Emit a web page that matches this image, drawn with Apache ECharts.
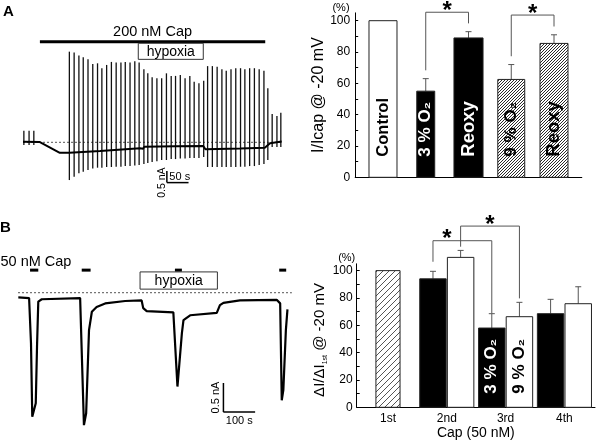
<!DOCTYPE html>
<html>
<head>
<meta charset="utf-8">
<script src="https://cdn.jsdelivr.net/npm/echarts@6.0.0/dist/echarts.min.js"></script>
<style>
html,body{margin:0;padding:0;background:#fff;}
#chart{width:600px;height:443px;}
</style>
</head>
<body>
<div id="chart"></div>
<script>
// ================= DATA =================
// Panel A – holding-current baseline (time s, current nA)
const traceA_t = [0, 39, 85, 107, 178, 270, 277, 280, 351, 416, 421, 501, 558, 570, 597];
const traceA_i = [0.02, 0.01, -0.45, -0.45, -0.37, -0.26, -0.28, -0.19, -0.17, -0.16, -0.30, -0.27, -0.23, -0.04, 0.03];
// Panel A – ramp-evoked current excursions (time s, outward peak nA, inward peak nA)
const rampA_t = [2, 14, 25,
  107, 118, 129, 139, 150, 161, 172, 182, 193, 204, 215, 226, 236, 247, 258, 268, 279,
  288, 298, 309, 320, 331, 342, 352, 363, 374, 385, 395, 406, 417,
  426, 437, 448, 459, 469, 480, 491, 502, 512, 523, 534, 545, 556, 565,
  575, 586, 595];
const rampA_top = [0.5, 0.5, 0.5,
  3.89, 3.85, 3.72, 3.65, 3.56, 3.36, 3.39, 3.18, 3.32, 3.45, 3.42, 3.42, 3.45, 3.42, 3.48, 3.42, 3.13,
  2.96, 2.79, 2.75, 2.75, 2.96, 2.85, 2.85, 2.89, 2.75, 2.85, 2.60, 2.53, 2.64,
  3.27, 3.27, 3.24, 3.13, 3.07, 3.13, 3.18, 3.18, 3.13, 3.18, 3.18, 3.13, 3.07, 2.32,
  1.21, 1.13, 1.27];
const rampA_bot = [-0.12, -0.12, -0.12,
  -1.62, -1.48, -1.33, -1.26, -1.19, -1.12, -1.09, -1.09, -1.06, -1.06, -1.05, -1.05, -1.02, -1.02, -1.00, -0.97, -0.93,
  -0.89, -0.85, -0.81, -0.76, -0.76, -0.72, -0.72, -0.70, -0.70, -0.67, -0.67, -0.67, -0.63,
  -1.06, -1.06, -1.06, -1.06, -1.06, -1.06, -1.06, -1.05, -1.05, -1.02, -1.02, -0.97, -0.93, -0.76,
  -0.20, -0.20, -0.20];
const capA = [39, 559];          // 200 nM Cap application (s)
const hypoxiaA = [266, 416];     // hypoxia period (s)

// Panel A – bar chart (%)
const catsA = ['Control', '3 % O₂', 'Reoxy', '9 % O₂', 'Reoxy'];
const valsA = [100, 55, 89, 62.5, 85.5];
const errTopA = [-1, 63, 93, 72, 91];   // -1 = no error bar
const sigA = [[1, 2], [3, 4]];
const yLabelsA = [0, 20, 40, 60, 80, 100];

// Panel B – current trace (time s, current nA)
const traceB_t = [1, 35, 38, 41, 45, 56, 60, 64, 75, 196, 201, 208, 215, 224, 233, 248, 275, 338, 390, 395, 406, 490, 495, 503, 509, 517, 522, 543, 627, 637, 648, 700, 816, 827, 832, 837, 845, 850];
const traceB_i = [-0.08, -0.09, -0.12, -0.85, -2.09, -1.86, -0.91, -0.15, -0.11, -0.09, -0.12, -2.23, -2.03, -0.63, -0.32, -0.24, -0.18, -0.14, -0.13, -0.26, -0.31, -0.33, -0.35, -1.58, -1.61, -0.68, -0.46, -0.38, -0.34, -0.21, -0.17, -0.13, -0.12, -0.18, -1.81, -1.64, -0.63, -0.28];
const capB = [[38, 64], [201, 229], [495, 517], [824, 846]];  // 50 nM Cap pulses (s)
const hypoxiaB = [385, 629];

// Panel B – bar chart (%)
const groupsB = ['1st', '2nd', '3rd', '4th'];
const firstB = 100;
const o3B = [null, 94, 58, 68.5];
const o3ErrTopB = [null, 99.5, 68.5, 79];
const o9B = [null, 109.7, 66.3, 75.8];
const o9ErrTopB = [null, 114.8, 76.8, 88.2];
const barTextB = {2: ['3 % O₂', '9 % O₂']};
const yLabelsB = [0, 20, 40, 60, 80, 100];

// ================= STYLE / LAYOUT =================
const FF = '"Liberation Sans", Arial, Helvetica, sans-serif';
function makeHatch(size, color, lw) {
  const cv = document.createElement('canvas');
  cv.width = size; cv.height = size;
  const g = cv.getContext('2d');
  g.fillStyle = '#fff'; g.fillRect(0, 0, size, size);
  g.strokeStyle = color; g.lineWidth = lw;
  g.beginPath();
  g.moveTo(0, size); g.lineTo(size, 0);
  g.moveTo(-1, 1); g.lineTo(1, -1);
  g.moveTo(size - 1, size + 1); g.lineTo(size + 1, size - 1);
  g.stroke();
  return {image: cv, repeat: 'repeat'};
}
const hatchA = makeHatch(3, '#2a2a2a', 1);
const hatchB = makeHatch(6, '#555', 1);

const styleA = [
  {fill: '#fff', w: 0.655, txt: '#000', fs: 16.5},
  {fill: '#000', w: 0.42, txt: '#fff', fs: 17},
  {fill: '#000', w: 0.68, txt: '#fff', fs: 18.5},
  {fill: hatchA, w: 0.63, txt: '#000', fs: 17},
  {fill: hatchA, w: 0.655, txt: '#000', fs: 18.5}
];
const bracketTopA = [105.4, 103.6];

const OFFB = 0.235, WB = 0.45, W1B = 0.41;
const barsA = catsA.map((c, i) => [i, valsA[i], errTopA[i]]);
const barsB = [[0, firstB, -1, 0]];
for (let g = 1; g < groupsB.length; g++) {
  barsB.push([g, o3B[g], o3ErrTopB[g], 1]);
  barsB.push([g, o9B[g], o9ErrTopB[g], 2]);
}
// brackets B: [group, kind] -> [group, kind]
const sigB = [[[1, 1], [2, 1]], [[1, 2], [2, 2]]];
const bracketB = [{top: 121.9, l: 106.5, r: 68.8}, {top: 132.6, l: 117.5, r: 79.7}];

function seg(p, q, stroke, lw, dash) {
  return {type: 'line', shape: {x1: p[0], y1: p[1], x2: q[0], y2: q[1]},
    style: {stroke: stroke, lineWidth: lw, lineDash: dash || null}};
}
function txt(x, y, text, size, opts) {
  opts = opts || {};
  return {type: 'text', x: x, y: y, rotation: opts.rot || 0,
    style: {text: text, fontSize: size, fontFamily: FF, fontWeight: opts.bold ? 'bold' : 'normal',
      fill: opts.fill || '#000', align: opts.align || 'center', verticalAlign: opts.va || 'middle'}};
}

// ---- render functions ----
function renderRamp(params, api) {
  const p = api.coord([api.value(0), api.value(1)]);
  const q = api.coord([api.value(0), api.value(2)]);
  return seg(p, q, '#111', 1.3);
}
function renderAnnA(params, api) {
  const c = [];
  c.push(seg(api.coord([0, 0]), api.coord([600, 0]), '#555', 1, [2, 2]));
  const a0 = api.coord([capA[0], 4.32]), a1 = api.coord([capA[1], 4.32]);
  c.push(seg(a0, a1, '#000', 3));
  c.push(txt((a0[0] + a1[0]) / 2, a0[1] - 9.5, '200 nM Cap', 14.5));
  const h0 = api.coord([hypoxiaA[0], 4.25]), h1 = api.coord([hypoxiaA[1], 3.56]);
  c.push({type: 'rect', shape: {x: h0[0], y: h0[1], width: h1[0] - h0[0], height: h1[1] - h0[1]},
    style: {fill: '#fff', stroke: '#333', lineWidth: 1}});
  c.push(txt((h0[0] + h1[0]) / 2, (h0[1] + h1[1]) / 2 + 0.5, 'hypoxia', 14));
  // scale bar: 50 s, 0.5 nA
  const s0 = api.coord([332, -1.73]), s1 = api.coord([382, -1.73]), s2 = api.coord([332, -1.23]);
  c.push(seg(s0, s1, '#000', 1.5));
  c.push(seg(s0, s2, '#000', 1.5));
  c.push(txt(s0[0] + 2.5, s0[1] - 0.5, '50 s', 11, {align: 'left', va: 'bottom'}));
  c.push(txt(s0[0] - 5, s0[1], '0.5 nA', 10.5, {rot: Math.PI / 2, align: 'center'}));
  return {type: 'group', children: c};
}
function renderAnnB(params, api) {
  const c = [];
  c.push(seg(api.coord([0, 0]), api.coord([864, 0]), '#555', 1, [2, 2]));
  capB.forEach(p => c.push(seg(api.coord([p[0], 0.38]), api.coord([p[1], 0.38]), '#000', 3)));
  const h0 = api.coord([hypoxiaB[0], 0.35]), h1 = api.coord([hypoxiaB[1], 0.06]);
  c.push({type: 'rect', shape: {x: h0[0], y: h0[1], width: h1[0] - h0[0], height: h1[1] - h0[1]},
    style: {fill: '#fff', stroke: '#333', lineWidth: 1}});
  c.push(txt((h0[0] + h1[0]) / 2, (h0[1] + h1[1]) / 2 + 0.5, 'hypoxia', 14));
  const s0 = api.coord([648, -2.01]), s1 = api.coord([748, -2.01]), s2 = api.coord([648, -1.52]);
  c.push(seg(s0, s1, '#000', 1.5));
  c.push(seg(s0, s2, '#000', 1.5));
  c.push(txt((s0[0] + s1[0]) / 2, s0[1] + 3, '100 s', 11, {va: 'top'}));
  c.push(txt(s0[0] - 7, (s0[1] + s2[1]) / 2, '0.5 nA', 11, {rot: Math.PI / 2}));
  return {type: 'group', children: c};
}
function renderBarA(params, api) {
  const i = params.dataIndex;
  const x = api.value(0), v = api.value(1), e = api.value(2);
  const u = api.size([1, 0])[0];
  const s = styleA[i];
  const w = s.w * u;
  const top = api.coord([x, v]), base = api.coord([x, 0]);
  const c = [];
  if (e > 0) {
    const et = api.coord([x, e]);
    c.push(seg([top[0], top[1]], [top[0], et[1]], '#555', 1));
    c.push(seg([top[0] - 3, et[1]], [top[0] + 3, et[1]], '#555', 1));
  }
  c.push({type: 'rect', shape: {x: top[0] - w / 2, y: top[1], width: w, height: base[1] - top[1]},
    style: {fill: s.fill, stroke: '#222', lineWidth: 1}});
  const lp = api.coord([x, 13.2]);
  c.push(txt(lp[0], lp[1], catsA[i], s.fs, {bold: true, rot: Math.PI / 2, align: 'left', fill: s.txt}));
  return {type: 'group', children: c};
}
function renderBracketA(params, api) {
  const k = params.dataIndex;
  const a = sigA[k][0], b = sigA[k][1];
  const y = bracketTopA[k];
  const pa = api.coord([a, y]), pb = api.coord([b, y]);
  const la = api.coord([a, errTopA[a] + 5.3]), lb = api.coord([b, errTopA[b] + 5.3]);
  return {type: 'group', children: [
    seg(pa, pb, '#555', 1), seg(pa, la, '#555', 1), seg(pb, lb, '#555', 1),
    txt((pa[0] + pb[0]) / 2, pa[1] - 1, '*', 24, {bold: true})
  ]};
}
function barXB(g, kind) { return g + (kind === 1 ? -OFFB : kind === 2 ? OFFB : 0); }
function renderBarB(params, api) {
  const g = api.value(0), v = api.value(1), e = api.value(2), kind = api.value(3);
  const u = api.size([1, 0])[0];
  const xv = barXB(g, kind);
  const w = (kind === 0 ? W1B : WB) * u;
  const top = api.coord([xv, v]), base = api.coord([xv, 0]);
  const c = [];
  if (e > 0) {
    const et = api.coord([xv, e]);
    c.push(seg([top[0], top[1]], [top[0], et[1]], '#555', 1));
    c.push(seg([top[0] - 3, et[1]], [top[0] + 3, et[1]], '#555', 1));
  }
  const fill = kind === 0 ? hatchB : kind === 1 ? '#000' : '#fff';
  c.push({type: 'rect', shape: {x: top[0] - w / 2, y: top[1], width: w, height: base[1] - top[1]},
    style: {fill: fill, stroke: '#222', lineWidth: 1}});
  if (barTextB[g] && kind > 0) {
    const lp = api.coord([xv, 10]);
    c.push(txt(lp[0], lp[1], barTextB[g][kind - 1], 17, {bold: true, rot: Math.PI / 2, align: 'left', fill: kind === 1 ? '#fff' : '#000'}));
  }
  return {type: 'group', children: c};
}
function renderBracketB(params, api) {
  const k = params.dataIndex;
  const A = sigB[k][0], B = sigB[k][1];
  const L = bracketB[k];
  const pa = api.coord([barXB(A[0], A[1]), L.top]), pb = api.coord([barXB(B[0], B[1]), L.top]);
  const la = api.coord([barXB(A[0], A[1]), L.l]), lb = api.coord([barXB(B[0], B[1]), L.r]);
  let sx = (pa[0] + pb[0]) / 2;
  if (k === 0) {
    const other = api.coord([barXB(sigB[1][0][0], sigB[1][0][1]), 0])[0];
    sx = (pa[0] + other) / 2;
  }
  return {type: 'group', children: [
    seg(pa, pb, '#555', 1), seg(pa, la, '#555', 1), seg(pb, lb, '#555', 1),
    txt(sx, pa[1] - 1, '*', 24, {bold: true})
  ]};
}

const axisBlack = {lineStyle: {color: '#000', width: 1}};
const option = {
  animation: false,
  textStyle: {fontFamily: FF, color: '#000'},
  grid: [
    {left: 23, top: 14.15, width: 260, height: 179.41},
    {left: 355.2, top: 12.87, width: 226.6, height: 164.43},
    {left: 18, top: 257.06, width: 275.8, height: 184.14},
    {left: 356.7, top: 263.8, width: 238.3, height: 143.5}
  ],
  xAxis: [
    {gridIndex: 0, type: 'value', min: 0, max: 600, show: false},
    {gridIndex: 1, type: 'value', min: -0.65, max: 4.65, axisLine: Object.assign({show: true, onZero: false}, axisBlack),
      axisTick: {show: false}, axisLabel: {show: false}, splitLine: {show: false}},
    {gridIndex: 2, type: 'value', min: 0, max: 870, show: false},
    {gridIndex: 3, type: 'value', min: -0.532, max: 3.52, axisLine: Object.assign({show: true, onZero: false}, axisBlack),
      axisTick: {show: false}, splitLine: {show: false},
      axisLabel: {customValues: [0, 1, 2, 3], formatter: v => groupsB[Math.round(v)], color: '#000', fontSize: 12, margin: 5, fontFamily: FF},
      name: 'Cap (50 nM)', nameLocation: 'middle', nameGap: 19, nameTextStyle: {fontSize: 14, color: '#000', fontFamily: FF}}
  ],
  yAxis: [
    {gridIndex: 0, type: 'value', min: -2.2, max: 5.5, show: false},
    {gridIndex: 1, type: 'value', min: 0, max: 105,
      axisLine: Object.assign({show: true, onZero: false}, axisBlack),
      axisTick: {show: true, inside: true, length: 3, customValues: [0, 10, 20, 30, 40, 50, 60, 70, 80, 90, 100], lineStyle: {color: '#000'}},
      axisLabel: {customValues: yLabelsA, color: '#000', fontSize: 12, margin: 5, fontFamily: FF},
      splitLine: {show: false},
      name: 'I/Icap @ -20 mV', nameLocation: 'middle', nameRotate: 90, nameGap: 24,
      nameTextStyle: {fontSize: 16, color: '#000', fontFamily: FF}},
    {gridIndex: 2, type: 'value', min: -2.5, max: 0.6, show: false},
    {gridIndex: 3, type: 'value', min: 0, max: 105,
      axisLine: Object.assign({show: true, onZero: false}, axisBlack),
      axisTick: {show: true, inside: true, length: 3, customValues: [0, 10, 20, 30, 40, 50, 60, 70, 80, 90, 100], lineStyle: {color: '#000'}},
      axisLabel: {customValues: yLabelsB, color: '#000', fontSize: 12, margin: 4, fontFamily: FF},
      splitLine: {show: false}}
  ],
  graphic: [
    {type: 'text', x: 3, y: 12, style: {text: 'A', fontSize: 15, fontWeight: 'bold', fontFamily: FF, fill: '#000', verticalAlign: 'middle'}},
    {type: 'text', x: 0, y: 228, style: {text: 'B', fontSize: 15, fontWeight: 'bold', fontFamily: FF, fill: '#000', verticalAlign: 'middle'}},
    {type: 'text', x: 341, y: 7.5, style: {text: '(%)', fontSize: 11, fontFamily: FF, fill: '#000', align: 'center', verticalAlign: 'middle'}},
    {type: 'text', x: 346.7, y: 257.5, style: {text: '(%)', fontSize: 11, fontFamily: FF, fill: '#000', align: 'center', verticalAlign: 'middle'}},
    {type: 'text', x: 0.5, y: 262, style: {text: '50 nM Cap', fontSize: 14.5, fontFamily: FF, fill: '#000', align: 'left', verticalAlign: 'middle'}},
    {type: 'text', x: 319, y: 340, rotation: Math.PI / 2,
      style: {text: '{a|ΔI/ΔI}{s|1st}{a| @ -20 mV}', fill: '#000', align: 'center', verticalAlign: 'middle',
        rich: {a: {fontSize: 15, fontFamily: FF, fill: '#000', verticalAlign: 'bottom', lineHeight: 17},
               s: {fontSize: 7, fontFamily: FF, fill: '#000', verticalAlign: 'bottom', lineHeight: 17, padding: [0, 0, -1, 0]}}}}
  ],
  series: [
    {type: 'custom', xAxisIndex: 0, yAxisIndex: 0, renderItem: renderAnnA, data: [[0, 0]], silent: true, z: 1},
    {type: 'custom', xAxisIndex: 0, yAxisIndex: 0, renderItem: renderRamp,
      data: rampA_t.map((t, i) => [t, rampA_bot[i], rampA_top[i]]), silent: true, z: 2},
    {type: 'line', xAxisIndex: 0, yAxisIndex: 0, data: traceA_t.map((t, i) => [t, traceA_i[i]]),
      showSymbol: false, lineStyle: {color: '#000', width: 2}, silent: true, z: 3},
    {type: 'custom', xAxisIndex: 1, yAxisIndex: 1, renderItem: renderBarA, data: barsA, silent: true, z: 2},
    {type: 'custom', xAxisIndex: 1, yAxisIndex: 1, renderItem: renderBracketA, data: sigA.map((p, k) => [k, 0]), silent: true, z: 3},
    {type: 'custom', xAxisIndex: 2, yAxisIndex: 2, renderItem: renderAnnB, data: [[0, 0]], silent: true, z: 1},
    {type: 'line', xAxisIndex: 2, yAxisIndex: 2, data: traceB_t.map((t, i) => [t, traceB_i[i]]),
      showSymbol: false, lineStyle: {color: '#000', width: 2.2}, silent: true, z: 3},
    {type: 'custom', xAxisIndex: 3, yAxisIndex: 3, renderItem: renderBarB, data: barsB, silent: true, z: 2},
    {type: 'custom', xAxisIndex: 3, yAxisIndex: 3, renderItem: renderBracketB, data: sigB.map((p, k) => [k, 0]), silent: true, z: 3}
  ]
};
const chart = echarts.init(document.getElementById('chart'), null, {renderer: 'canvas'});
chart.setOption(option);
</script>
</body>
</html>
